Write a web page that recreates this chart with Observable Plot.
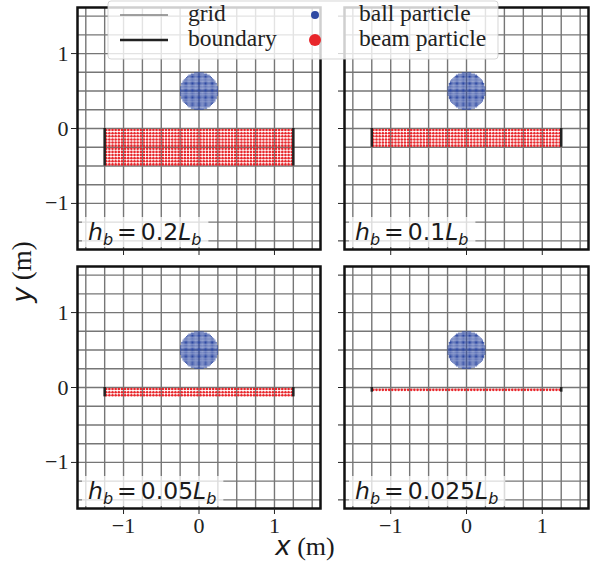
<!DOCTYPE html>
<html>
<head>
<meta charset="utf-8">
<script src="https://cdn.jsdelivr.net/npm/d3@7"></script>
<script src="https://cdn.jsdelivr.net/npm/@observablehq/plot@0.6"></script>
<style>
  html, body { margin: 0; padding: 0; background: #fff; }
  #chart { position: relative; width: 590px; height: 562px; overflow: hidden; background: #fff; }
  .panel { position: absolute; }
  .panel svg { overflow: visible; }
  #overlay { position: absolute; left: 0; top: 0; pointer-events: none; }
</style>
</head>
<body>
<div id="chart"></div>
<script>
// ---- data ----
const heightRatios = [0.2, 0.1, 0.05, 0.025];        // h_b / L_b per panel
const panelLabels = ["0.2", "0.1", "0.05", "0.025"];
const beamLength = 2.5;                                // L_b (m)
const beamRows = [12, 6, 3, 1];                        // particle rows through the beam thickness
const beamCols = 60;                                   // particle columns along the beam
const ballCenter = [0, 0.5];
const ballRadius = 0.25;
const ballCells = 32;                                  // particles across the ball diameter
const gridValues = [-1.5, -1.25, -1, -0.75, -0.5, -0.25, 0, 0.25, 0.5, 0.75, 1, 1.25, 1.5];
const xTicks = [-1, 0, 1];
const yTicks = [-1, 0, 1];
const yMinorTicks = [-1.5, -1, -0.5, 0, 0.5, 1, 1.5];
const legendLines = ["grid", "boundary"];
const legendDots = ["ball particle", "beam particle"];

// ---- particle lattices ----
const ball = [];
{
  const s = 2 * ballRadius / ballCells;
  for (let i = 0; i < ballCells; i++) for (let j = 0; j < ballCells; j++) {
    const dx = -ballRadius + s * (i + 0.5), dy = -ballRadius + s * (j + 0.5);
    if (dx * dx + dy * dy <= ballRadius * ballRadius) ball.push({x: ballCenter[0] + dx, y: ballCenter[1] + dy});
  }
}
function beamParticles(k) {
  const hb = heightRatios[k] * beamLength, rows = beamRows[k];
  const sx = beamLength / beamCols, sy = hb / rows, out = [];
  for (let i = 0; i < beamCols; i++) for (let j = 0; j < rows; j++)
    out.push({x: -beamLength / 2 + sx * (i + 0.5), y: -sy * (j + 0.5)});
  return out;
}
const fmt = d => d < 0 ? "\u2212" + (-d) : String(d);

const chart = document.getElementById("chart");
const layout = [
  {left: 0, top: 0},
  {left: 334, top: 0},
  {left: 0, top: 259},
  {left: 334, top: 259}
];
const frames = [];
heightRatios.forEach((ratio, k) => {
  const col = k % 2, row = Math.floor(k / 2);
  const ml = col === 0 ? 77 : 10, mr = col === 0 ? 10 : 2;
  const w = col === 0 ? 330 : 256;
  const mb = row === 0 ? 13 : 41;
  const h = row === 0 ? 262 : 290;
  const hb = ratio * beamLength;
  const plot = Plot.plot({
    width: w, height: h,
    marginLeft: ml, marginRight: mr, marginTop: 7, marginBottom: mb,
    x: {domain: [-1.61, 1.61], axis: null},
    y: {domain: [-1.615, 1.615], axis: null},
    style: {fontFamily: "'Liberation Serif', 'Times New Roman', serif", fontSize: "22px", color: "#222", background: "transparent"},
    marks: [
      Plot.ruleX(gridValues, {stroke: "#767676", strokeWidth: 1.4}),
      Plot.ruleY(gridValues, {stroke: "#767676", strokeWidth: 1.4}),
      Plot.dot(ball, {x: "x", y: "y", r: 0.62, fill: "#2f4aa3"}),
      Plot.dot(beamParticles(k), {x: "x", y: "y", r: 1.3, fill: "#e8262b"}),
      Plot.ruleX([-beamLength / 2, beamLength / 2], {y1: 0, y2: -hb, stroke: "#222", strokeWidth: 2.5}),
      Plot.frame({stroke: "#111", strokeWidth: 2.5}),
      Plot.axisX(xTicks, {anchor: "bottom", tickSize: 6, tickPadding: 3, label: null, fontSize: 22,
        tickFormat: row === 1 ? fmt : () => ""}),
      Plot.axisY(col === 0 ? yTicks : yMinorTicks, {anchor: "left", tickSize: 6, tickPadding: 3, label: null, fontSize: 22,
        tickFormat: col === 0 ? fmt : () => ""})
    ]
  });
  const div = document.createElement("div");
  div.className = "panel";
  div.style.left = layout[k].left + "px";
  div.style.top = layout[k].top + "px";
  div.appendChild(plot);
  chart.appendChild(div);
  frames.push({x0: layout[k].left + ml, y1: layout[k].top + h - mb});
});

// ---- overlay: legend, panel labels, axis titles ----
const svg = d3.select(chart).append("svg").attr("id", "overlay").attr("width", 590).attr("height", 562);
const serif = "'Liberation Serif', 'Times New Roman', serif";
const sans = "'DejaVu Sans', sans-serif";

// legend
svg.append("rect").attr("x", 108).attr("y", 1).attr("width", 390).attr("height", 58).attr("rx", 3)
  .attr("fill", "#fff").attr("fill-opacity", 0.8).attr("stroke", "#cccccc").attr("stroke-opacity", 0.8);
const lineStyles = [{stroke: "#808080", w: 1.5}, {stroke: "#222", w: 2.5}];
legendLines.forEach((t, i) => {
  const y = 15 + 25 * i;
  svg.append("line").attr("x1", 120).attr("x2", 168).attr("y1", y).attr("y2", y)
    .attr("stroke", lineStyles[i].stroke).attr("stroke-width", lineStyles[i].w);
  svg.append("text").attr("x", 188).attr("y", y + 5.5).attr("font-family", serif).attr("font-size", 23.5)
    .attr("fill", "#222").text(t);
});
const dotStyles = [{fill: "#2f4aa3", r: 4}, {fill: "#e8262b", r: 6}];
legendDots.forEach((t, i) => {
  const y = 15 + 25 * i;
  svg.append("circle").attr("cx", 315).attr("cy", y).attr("r", dotStyles[i].r).attr("fill", dotStyles[i].fill);
  svg.append("text").attr("x", 359).attr("y", y + 5.5).attr("font-family", serif).attr("font-size", 23.5)
    .attr("fill", "#222").text(t);
});

// panel labels
panelLabels.forEach((lab, k) => {
  const f = frames[k];
  const g = svg.append("g");
  const rect = g.append("rect").attr("fill", "#fff").attr("fill-opacity", 0.75);
  const text = g.append("text").attr("x", f.x0 + 11).attr("y", f.y1 - 9)
    .attr("font-family", sans).attr("font-size", 23.5).attr("fill", "#1a1a1a");
  text.append("tspan").attr("font-style", "italic").text("h");
  text.append("tspan").attr("font-style", "italic").attr("font-size", 16).attr("dy", 5).text("b");
  text.append("tspan").attr("dy", -5).attr("dx", 4).text("=");
  text.append("tspan").attr("dx", 4).text(lab);
  text.append("tspan").attr("font-style", "italic").text("L");
  text.append("tspan").attr("font-style", "italic").attr("font-size", 16).attr("dy", 5).text("b");
  const bb = text.node().getBBox();
  rect.attr("x", f.x0 + 5).attr("y", f.y1 - 32).attr("width", bb.x + bb.width - f.x0 + 2).attr("height", 30);
});

// axis titles
const xt = svg.append("text").attr("x", 305).attr("y", 555).attr("text-anchor", "middle")
  .attr("font-size", 26).attr("fill", "#1a1a1a");
xt.append("tspan").attr("font-family", sans).attr("font-style", "italic").text("x");
xt.append("tspan").attr("font-family", serif).text(" (m)");
const yt = svg.append("text").attr("transform", "translate(31,272) rotate(-90)").attr("text-anchor", "middle")
  .attr("font-size", 27).attr("fill", "#1a1a1a");
yt.append("tspan").attr("font-family", sans).attr("font-style", "italic").text("y");
yt.append("tspan").attr("font-family", serif).text(" (m)");
</script>
</body>
</html>
